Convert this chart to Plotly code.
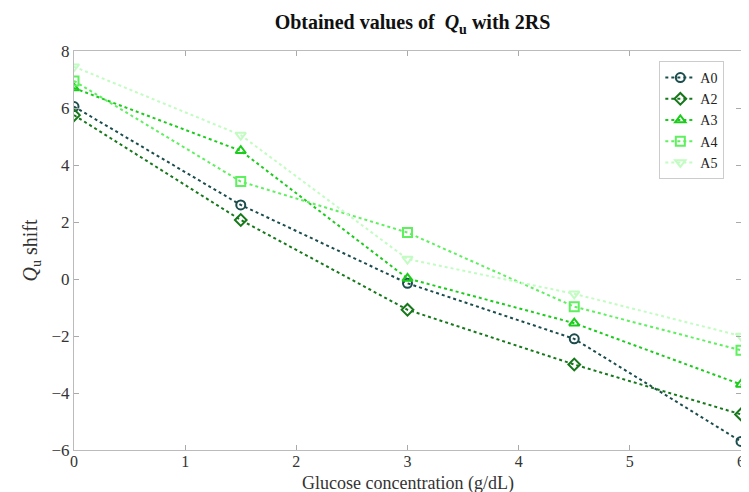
import plotly.graph_objects as go

x_vals = [0, 1.5, 3, 4.5, 6]
series_names = ["A0", "A2", "A3", "A4", "A5"]
A0 = [6.05, 2.6, -0.15, -2.1, -5.7]
A2 = [5.75, 2.07, -1.08, -3.0, -4.75]
A3 = [6.7, 4.5, 0.02, -1.55, -3.7]
A4 = [6.95, 3.42, 1.63, -0.97, -2.5]
A5 = [7.45, 5.05, 0.7, -0.52, -2.0]
x_ticks = [0, 1, 2, 3, 4, 5, 6]
y_ticks = [-6, -4, -2, 0, 2, 4, 6, 8]

colors = ["#1b4d4d", "#16781a", "#1ccc1c", "#5ef05e", "#c2fcc2"]
symbols = ["circle-open", "diamond-open", "triangle-up-open", "square-open", "triangle-down-open"]
data = [A0, A2, A3, A4, A5]

fig = go.Figure()
for name, ys, c, s in zip(series_names, data, colors, symbols):
    fig.add_trace(go.Scatter(
        x=x_vals, y=ys, name=name, mode="lines+markers",
        line=dict(color=c, width=2, dash="dot"),
        marker=dict(symbol=s, size=9, color=c, line=dict(color=c, width=2)),
    ))

font = "Liberation Serif, DejaVu Serif, serif"
fig.update_layout(
    width=749, height=492,
    paper_bgcolor="white", plot_bgcolor="white",
    margin=dict(l=66, r=14, t=43, b=50),
    font=dict(family=font, size=17, color="#333333"),
    title=dict(text="<b>Obtained values of  <i>Q</i><sub>u</sub> with 2RS</b>",
               x=0.54, xanchor="center", y=0.985, yanchor="top",
               font=dict(size=20, color="#111111")),
    showlegend=True,
    legend=dict(x=0.975, y=0.975, xanchor="right", yanchor="top",
                bordercolor="#cccccc", borderwidth=1, bgcolor="white",
                font=dict(size=14, color="#222222"), tracegroupgap=0,
                itemwidth=30),
    annotations=[dict(text="Glucose concentration (g/dL)", x=0.5, y=-0.085,
                      xref="paper", yref="paper", xanchor="center", yanchor="middle",
                      showarrow=False, font=dict(size=18, color="#333333"))],
)
fig.update_xaxes(
    range=[0, 6], tickvals=x_ticks, ticks="inside", ticklen=5,
    tickcolor="#aaaaaa", showline=True, linecolor="#bbbbbb", linewidth=1,
    mirror="ticks", showgrid=False, zeroline=False,
    tickfont=dict(size=16), ticklabelstandoff=-3,
)
fig.update_yaxes(
    range=[-6, 8], tickvals=y_ticks, ticks="inside", ticklen=5,
    tickcolor="#aaaaaa", showline=True, linecolor="#bbbbbb", linewidth=1,
    mirror="ticks", showgrid=False, zeroline=False,
    title=dict(text="<i>Q</i><sub>u</sub> shift", standoff=8, font=dict(size=20)),
    tickfont=dict(size=17),
)

fig.write_html("out.html")
